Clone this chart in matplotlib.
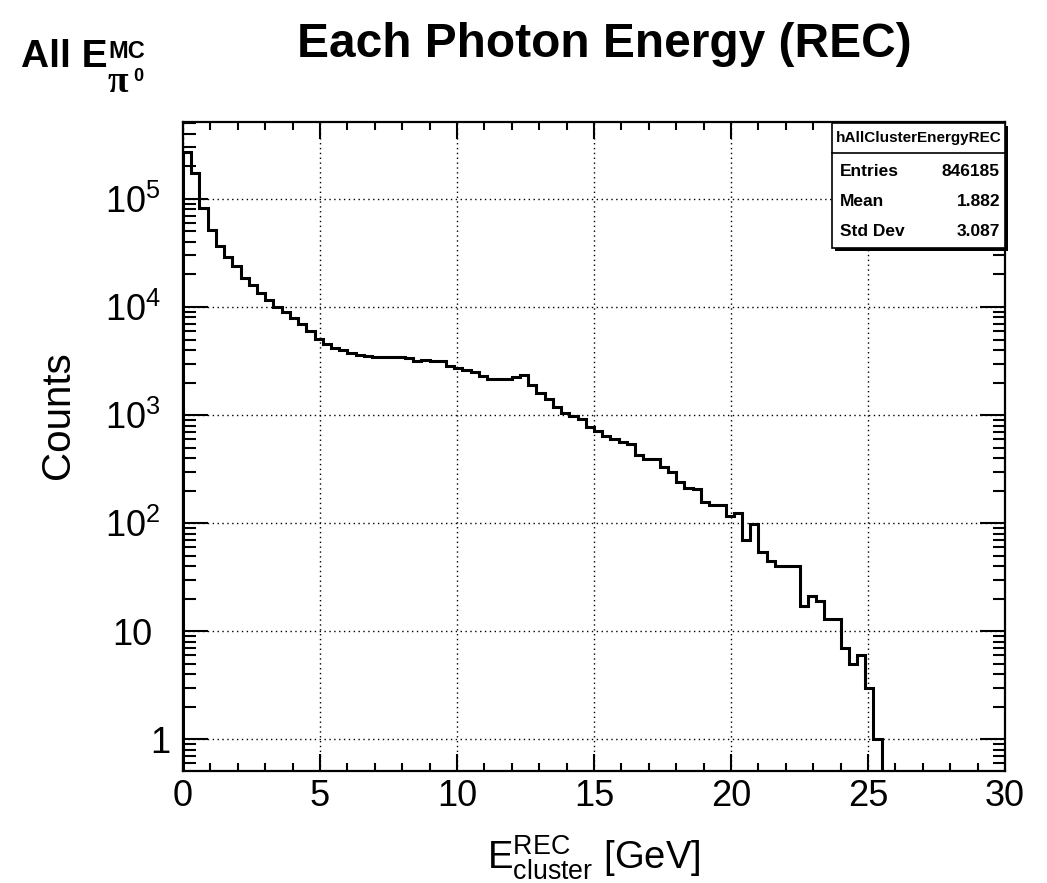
import numpy as np
import matplotlib
matplotlib.use("Agg")
import matplotlib.pyplot as plt
from matplotlib.ticker import FixedLocator, FuncFormatter, MultipleLocator
from matplotlib.patches import Rectangle
from matplotlib.lines import Line2D
from matplotlib.transforms import ScaledTranslation

plt.rcParams['font.family'] = ['Liberation Sans', 'DejaVu Sans']
plt.rcParams['mathtext.fontset'] = 'custom'
plt.rcParams['mathtext.rm'] = 'Liberation Sans'
plt.rcParams['mathtext.it'] = 'Liberation Sans:italic'
plt.rcParams['mathtext.bf'] = 'Liberation Sans:bold'
plt.rcParams['mathtext.sf'] = 'Liberation Sans'

# ---- data ----
n_bins = 100
e_min, e_max = 0.0, 30.0
counts = [
    274000, 175000, 82000, 52000, 36700, 28900, 24000, 18500, 16000, 13400,
    11600, 10100, 8900, 7900, 6980, 6000, 5100, 4560, 4160, 4000,
    3790, 3600, 3500, 3480, 3470, 3480, 3450, 3360, 3190, 3200,
    3180, 3170, 2850, 2720, 2620, 2490, 2310, 2160, 2160, 2150,
    2240, 2340, 1900, 1610, 1400, 1200, 1050, 990, 922, 783,
    719, 643, 598, 561, 541, 429, 391, 390, 334, 300,
    238, 211, 206, 158, 147, 147, 117, 124, 70, 98,
    54, 45, 40, 40, 40, 17, 21, 19, 13, 13,
    7, 5, 6, 3, 1, 0, 0, 0, 0, 0,
    0, 0, 0, 0, 0, 0, 0, 0, 0, 0,
]
x_ticks_major = [0, 5, 10, 15, 20, 25, 30]
y_ticks_major = [1, 10, 100, 1000, 10000, 100000]
hist_name = "hAllClusterEnergyREC"
stat_labels = ["Entries", "Mean", "Std Dev"]
stat_values = ["846185", "1.882", "3.087"]
title = "Each Photon Energy (REC)"
corner_main = "All E"
corner_sup = "MC"
corner_sub = "\u03c0"
corner_subsup = "0"
x_title = r"$\mathregular{E^{REC}_{cluster}}$ [GeV]"
y_title = "Counts"

W, H = 1047, 883
fig = plt.figure(figsize=(W / 100, H / 100), dpi=100)

def fx(x):
    return x / W

def fy(y):
    return 1 - y / H

ax_l, ax_r, ax_t, ax_b = 183, 1005, 122, 771
ax = fig.add_axes([fx(ax_l), fy(ax_b), fx(ax_r) - fx(ax_l), fy(ax_t) - fy(ax_b)])

edges = np.linspace(e_min, e_max, n_bins + 1)
vals = np.array(counts, dtype=float)
ax.set_yscale('log')
ax.stairs(vals, edges, color='black', linewidth=2.2, baseline=1e-3)

ax.set_xlim(e_min, e_max)
ax.set_ylim(0.509, 10 ** 5.712)

ax.xaxis.set_major_locator(FixedLocator(x_ticks_major))
ax.xaxis.set_minor_locator(MultipleLocator(1))
ax.yaxis.set_major_locator(FixedLocator(y_ticks_major))
minor_y = [m * 10 ** k for k in range(-1, 6) for m in range(2, 10)]
ax.yaxis.set_minor_locator(FixedLocator(minor_y))

def yfmt(v, pos):
    if v == 1:
        return "1"
    if v == 10:
        return "10"
    return r"$\mathregular{10^{%d}}$" % int(round(np.log10(v)))

ax.yaxis.set_major_formatter(FuncFormatter(yfmt))
ax.xaxis.set_major_formatter(FuncFormatter(lambda v, p: "%d" % v))

ax.tick_params(axis='both', which='both', direction='in', top=True, right=True,
               color='black', width=1.5)
ax.tick_params(axis='x', which='major', length=12, labelsize=26, pad=6)
ax.tick_params(axis='x', which='minor', length=6)
ax.tick_params(axis='y', which='major', length=18, labelsize=26, pad=16)
ax.tick_params(axis='y', which='minor', length=9)

# ROOT-like horizontal placement of the plain "1" and "10" labels
label_shift_px = {1: 10, 10: -8}
for v, tick in zip(y_ticks_major, ax.yaxis.get_major_ticks()):
    if v in label_shift_px:
        off = ScaledTranslation(label_shift_px[v] / 100, 0, fig.dpi_scale_trans)
        tick.label1.set_transform(tick.label1.get_transform() + off)

for s in ax.spines.values():
    s.set_linewidth(1.6)

ax.grid(True, which='major', color='black', linestyle=(0, (1, 2.5)), linewidth=1.0)
ax.set_axisbelow(False)

# titles
fig.text(fx(604), fy(57), title, ha='center', va='baseline',
         fontsize=34.5, fontweight='bold')
fig.text(fx(21), fy(67), corner_main, ha='left', va='baseline',
         fontsize=28, fontweight='bold')
fig.text(fx(108), fy(58), corner_sup, ha='left', va='baseline',
         fontsize=17, fontweight='bold')
fig.text(fx(108), fy(92), corner_sub, ha='left', va='baseline',
         fontsize=27, fontweight='bold', family=['Liberation Serif', 'DejaVu Serif'])
fig.text(fx(133), fy(81), corner_subsup, ha='left', va='baseline',
         fontsize=13, fontweight='bold')
fig.text(fx(594), fy(869), x_title, ha='center', va='baseline', fontsize=27.5)
fig.text(fx(58), fy(415), y_title, ha='center', va='center', rotation=90,
         fontsize=29)

# stats box
bl, br, bt, bh, bb = 832, 1005, 123, 153, 248
shadow = Rectangle((fx(bl + 3), fy(bb + 3)), fx(br - bl), fy(bt) - fy(bb),
                   transform=fig.transFigure, facecolor='black', edgecolor='none', zorder=5)
fig.add_artist(shadow)
box = Rectangle((fx(bl), fy(bb)), fx(br - bl), fy(bt) - fy(bb),
                transform=fig.transFigure, facecolor='white', edgecolor='black',
                linewidth=1.2, zorder=6)
fig.add_artist(box)
fig.add_artist(Line2D([fx(bl), fx(br)], [fy(bh), fy(bh)], transform=fig.transFigure,
                      color='black', linewidth=1.2, zorder=7))
fig.text(fx((bl + br) / 2), fy(138), hist_name, ha='center', va='center',
         fontsize=11, fontweight='bold', zorder=8)
row_y = [172, 202, 231]
for lab, val, yy in zip(stat_labels, stat_values, row_y):
    fig.text(fx(bl + 8), fy(yy), lab, ha='left', va='center', fontsize=12.5,
             fontweight='bold', zorder=8)
    fig.text(fx(br - 5), fy(yy), val, ha='right', va='center', fontsize=12.5,
             fontweight='bold', zorder=8)

fig.savefig("out.png", dpi=100)
